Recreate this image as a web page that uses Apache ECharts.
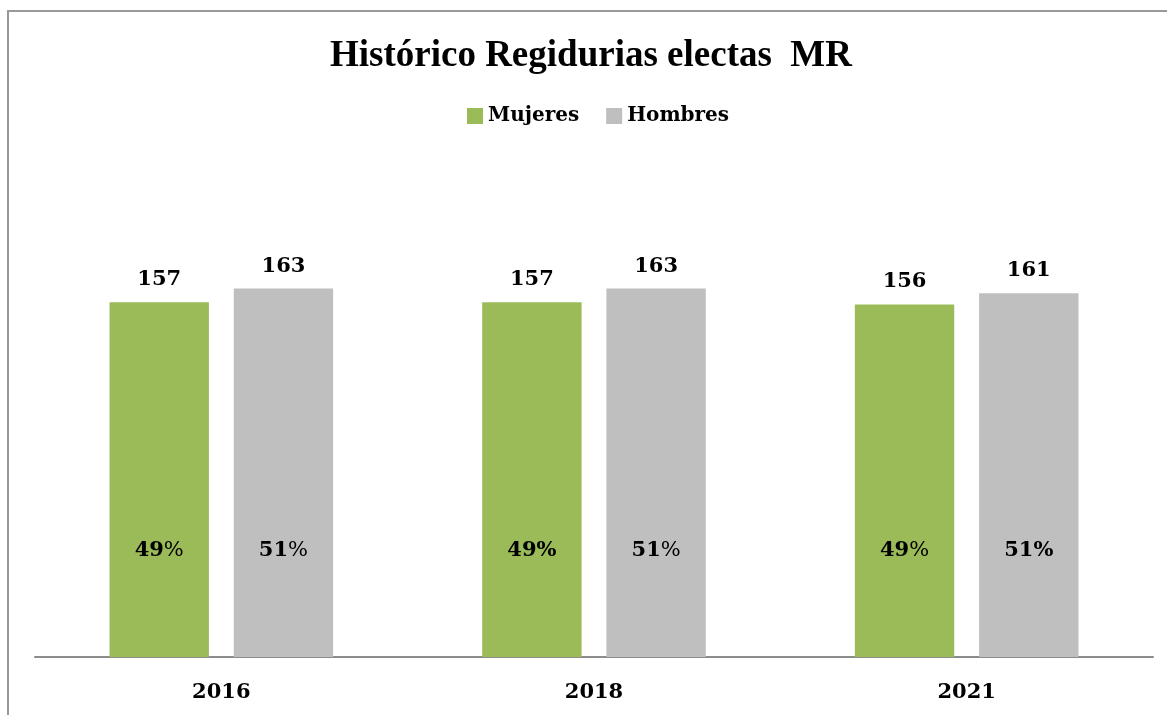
<!DOCTYPE html>
<html>
<head>
<meta charset="utf-8">
<title>Histórico Regidurias electas MR</title>
<script src="https://cdn.jsdelivr.net/npm/echarts@6/dist/echarts.min.js"></script>
<style>
  html, body { margin: 0; padding: 0; background: #fff; }
  #chart { width: 1167px; height: 715px; }
</style>
</head>
<body>
<div id="chart"></div>
<script>
// datos del gráfico
const years = ['2016', '2018', '2021'];
const mujeres = [157, 157, 156];
const hombres = [163, 163, 161];
const pctMujeres = ['49', '49', '49'];
const pctHombres = ['51', '51', '51'];
// el signo % sale en negrita solo en algunos rótulos
const pctBoldMujeres = [false, true, false];
const pctBoldHombres = [false, false, true];

const TITLE_FONT = '"Liberation Serif", serif';
const FONT = '"DejaVu Serif", "Liberation Serif", serif';
const GREEN = '#9BBB59';
const GRAY = '#BFBFBF';

const chart = echarts.init(document.getElementById('chart'));

const pctLabel = (nums, bold) => ({
  show: true,
  position: 'insideBottom',
  distance: 96,
  formatter: (p) => '{n|' + nums[p.dataIndex] + '}' + (bold[p.dataIndex] ? '{b|%}' : '{r|%}'),
  rich: {
    n: { fontFamily: FONT, fontWeight: 'bold', fontSize: 21, color: '#000' },
    b: { fontFamily: FONT, fontWeight: 'bold', fontSize: 21, color: '#000' },
    r: { fontFamily: FONT, fontWeight: 'normal', fontSize: 21, color: '#000' }
  }
});

const valueLabel = {
  show: true,
  position: 'top',
  distance: 12,
  fontFamily: FONT,
  fontWeight: 'bold',
  fontSize: 21,
  color: '#000'
};

const option = {
  animation: false,
  title: {
    text: 'Histórico Regidurias electas  MR',
    left: 330,
    top: 38,
    padding: 0,
    textStyle: { fontFamily: TITLE_FONT, fontWeight: 'bold', fontSize: 37, color: '#000' }
  },
  legend: {
    top: 106,
    left: 467,
    padding: 0,
    itemWidth: 16,
    itemHeight: 16,
    itemGap: 27,
    icon: 'rect',
    data: ['Mujeres', 'Hombres'],
    textStyle: { fontFamily: FONT, fontWeight: 'bold', fontSize: 20, color: '#000' }
  },
  graphic: [{
    type: 'rect',
    shape: { x: 8, y: 11, width: 1300, height: 900 },
    style: { fill: 'none', stroke: '#999', lineWidth: 2 },
    silent: true
  }],
  grid: { left: 35, right: 14, top: 205, bottom: 58 },
  xAxis: [{
    type: 'category',
    data: years,
    axisLine: { lineStyle: { color: '#8c8c8c', width: 2 } },
    axisTick: { show: false },
    axisLabel: { fontFamily: FONT, fontWeight: 'bold', fontSize: 21, color: '#000', margin: 25 }
  }, {
    type: 'category',
    data: years,
    show: false,
    position: 'bottom'
  }],
  yAxis: { type: 'value', min: 0, max: 200, show: false, splitLine: { show: false } },
  series: [{
    name: 'Mujeres',
    type: 'bar',
    data: mujeres,
    barGap: '25%',
    barCategoryGap: '40%',
    itemStyle: { color: GREEN },
    label: valueLabel
  }, {
    name: 'Hombres',
    type: 'bar',
    data: hombres,
    barGap: '25%',
    barCategoryGap: '40%',
    itemStyle: { color: GRAY },
    label: valueLabel
  }, {
    // rótulos de porcentaje dentro de las barras
    name: 'pctM',
    type: 'bar',
    xAxisIndex: 1,
    data: mujeres,
    barGap: '25%',
    barCategoryGap: '40%',
    itemStyle: { color: 'rgba(0,0,0,0)' },
    label: pctLabel(pctMujeres, pctBoldMujeres),
    silent: true
  }, {
    name: 'pctH',
    type: 'bar',
    xAxisIndex: 1,
    data: hombres,
    barGap: '25%',
    barCategoryGap: '40%',
    itemStyle: { color: 'rgba(0,0,0,0)' },
    label: pctLabel(pctHombres, pctBoldHombres),
    silent: true
  }]
};

chart.setOption(option);
window.addEventListener('resize', () => chart.resize());
</script>
</body>
</html>
